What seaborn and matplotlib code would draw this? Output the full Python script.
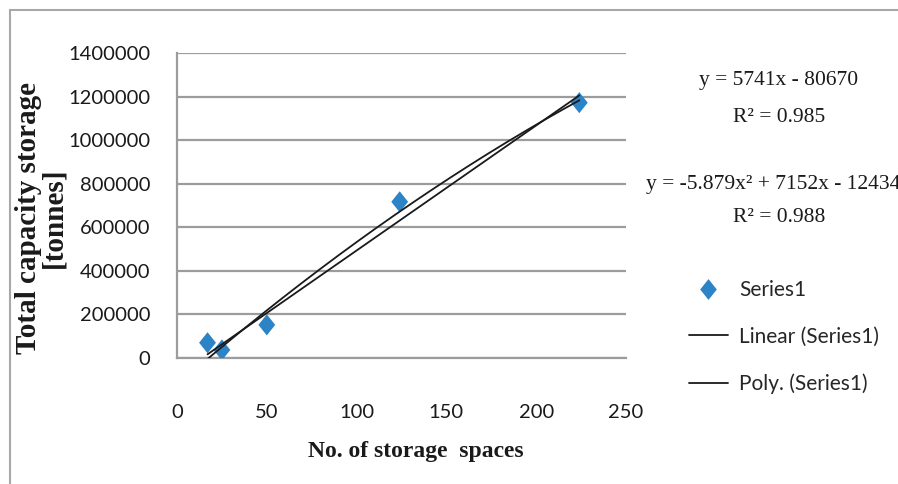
import numpy as np
import pandas as pd
import matplotlib
matplotlib.use("Agg")
import matplotlib.pyplot as plt
from matplotlib.lines import Line2D
import seaborn as sns

# Observed storage sites
spaces = [17, 25, 50, 124, 224]
capacity = [70000, 37000, 152000, 717000, 1172000]

# Trendline coefficients
lin_slope, lin_icpt = 5741, -80670
lin_r2 = 0.985
poly_a, poly_b, poly_c = -5.879, 7152, -124340
poly_r2 = 0.988

x_ticks = [0, 50, 100, 150, 200, 250]
y_ticks = [0, 200000, 400000, 600000, 800000, 1000000, 1200000, 1400000]

sns.set_theme(style="white")
tick_font = ["Lato", "DejaVu Sans"]
serif_font = ["Liberation Serif", "DejaVu Serif"]
plt.rcParams["font.family"] = tick_font

W, H = 898, 484
fig = plt.figure(figsize=(W / 100, H / 100), dpi=100)
fig.patch.set_facecolor("white")
ax = fig.add_axes([177 / W, 1 - 358 / H, (626 - 177) / W, (358 - 53) / H])

df = pd.DataFrame({"spaces": spaces, "capacity": capacity})
diamond = [(0, -1), (0.8, 0), (0, 1), (-0.8, 0), (0, -1)]
blue = "#2c84c6"

xs = np.linspace(min(spaces), max(spaces), 200)
trend = pd.DataFrame({
    "x": xs,
    "lin": lin_slope * xs + lin_icpt,
    "poly": poly_a * xs ** 2 + poly_b * xs + poly_c,
})

sns.scatterplot(data=df, x="spaces", y="capacity", ax=ax, marker=diamond,
                s=230, color=blue, edgecolor="none", zorder=3, label="Series1")
sns.lineplot(data=trend, x="x", y="lin", ax=ax, color="#1a1a1a", lw=1.3,
             zorder=4, label="Linear (Series1)")
sns.lineplot(data=trend, x="x", y="poly", ax=ax, color="#1a1a1a", lw=1.3,
             zorder=4, label="Poly. (Series1)")

ax.set_xlim(0, 250)
ax.set_ylim(0, 1400000)
ax.set_xticks(x_ticks)
ax.set_yticks(y_ticks)
ax.set_xticklabels([str(v) for v in x_ticks])
ax.set_yticklabels([str(v) for v in y_ticks])
ax.tick_params(axis="both", length=0, labelsize=14.5, colors="#1a1a1a")
ax.tick_params(axis="y", pad=19)
ax.tick_params(axis="x", pad=33)
ax.set_xlabel("")
ax.set_ylabel("")

grid_c = "#9c9c9c"
ax.grid(axis="y", color=grid_c, lw=1.6)
ax.set_axisbelow(True)
for side in ("top", "right"):
    ax.spines[side].set_visible(False)
for side in ("left", "bottom"):
    ax.spines[side].set_color(grid_c)
    ax.spines[side].set_linewidth(1.6)

# Legend to the right of the plot area
handles = [
    Line2D([], [], ls="none", marker=diamond, ms=15, color=blue, mec="none"),
    Line2D([], [], color="#1a1a1a", lw=1.3),
    Line2D([], [], color="#1a1a1a", lw=1.3),
]
labels = ["Series1", "Linear (Series1)", "Poly. (Series1)"]
ax.legend(handles, labels, loc="upper left",
          bbox_to_anchor=(689 / W, 1 - 280 / H), bbox_transform=fig.transFigure,
          frameon=False, fontsize=15, handlelength=1.85, handletextpad=0.55,
          labelspacing=1.28, borderaxespad=0, borderpad=0)

# Trendline equations
eq_kw = dict(family=serif_font, fontsize=15.5, color="#1a1a1a",
             ha="center", va="center")
fig.text(779 / W, 1 - 80 / H, f"y = {lin_slope}x - {abs(lin_icpt)}", **eq_kw)
fig.text(779 / W, 1 - 117 / H, f"R² = {lin_r2}", **eq_kw)
fig.text(779 / W, 1 - 184 / H,
         f"y = {poly_a}x² + {poly_b}x - {abs(poly_c)}", **eq_kw)
fig.text(779 / W, 1 - 218 / H, f"R² = {poly_r2}", **eq_kw)

# Axis titles
fig.text(416 / W, 1 - 452 / H, "No. of storage  spaces", family=serif_font,
         fontweight="bold", fontsize=17, color="#1a1a1a",
         ha="center", va="center")
fig.text(41 / W, 1 - 218 / H, "Total capacity storage\n[tonnes]",
         family=serif_font, fontweight="bold", fontsize=21, color="#1a1a1a",
         rotation=90, ha="center", va="center", multialignment="center",
         linespacing=0.9)

# Chart frame
frame_c = "#a8a8a8"
fig.add_artist(Line2D([10 / W, 10 / W], [0, 1 - 10 / H], color=frame_c,
                      lw=1.5, transform=fig.transFigure))
fig.add_artist(Line2D([10 / W, 1], [1 - 10 / H, 1 - 10 / H], color=frame_c,
                      lw=1.5, transform=fig.transFigure))

fig.savefig("out.png", dpi=100, facecolor="white")
